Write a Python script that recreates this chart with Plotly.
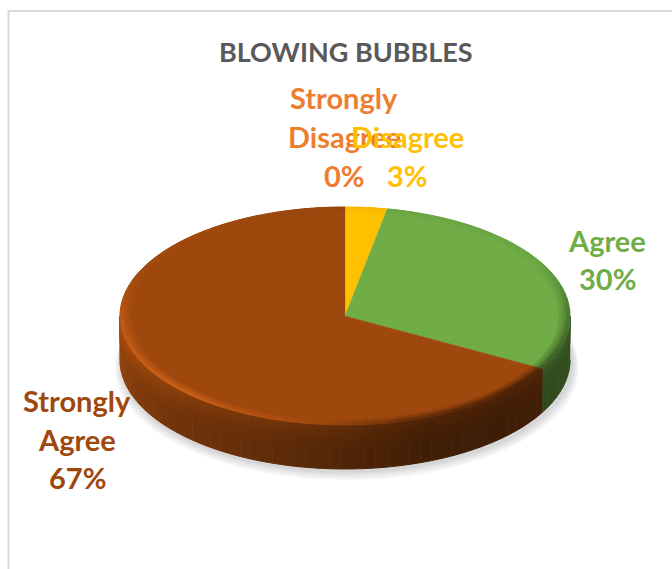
import numpy as np
import plotly.graph_objects as go

categories = ["Strongly Disagree", "Disagree", "Agree", "Strongly Agree"]
values = [0, 3, 30, 67]
colors = ["#ED7D31", "#FFC000", "#70AD47", "#9E480E"]
title = "BLOWING BUBBLES"

W, H = 672, 569
CX, CY, RX, RY, DEPTH = 345, 316, 225, 109, 44
FONT = "Lato"
XR = [-CX / RX, (W - CX) / RX]
YR = [(CY - H) / RY, CY / RY]
D = DEPTH / RY


def rgb(c):
    c = c.lstrip("#")
    return np.array([int(c[i:i + 2], 16) for i in (0, 2, 4)], float)


def hexs(a):
    a = np.clip(a, 0, 255).round().astype(int)
    return f"rgb({a[0]},{a[1]},{a[2]})"


def pt(phi, r=1.0, dy=0.0):
    p = np.radians(phi)
    return r * np.sin(p), r * np.cos(p) - dy


fig = go.Figure()


def poly(x, y, color, lw=1.0):
    fig.add_trace(go.Scatter(x=list(x), y=list(y), mode="lines", fill="toself", fillcolor=color,
                             line=dict(color=color, width=lw), hoverinfo="skip", showlegend=False))


# soft shadow under the disc
ang = np.linspace(0, 360, 181)
for grow, dy in [(1.030, 0.07), (1.022, 0.055), (1.014, 0.04), (1.006, 0.03)]:
    sx, sy = pt(ang, grow, D + dy)
    sx = sx + 0.008
    poly(sx, sy, "rgba(90,90,90,0.065)", 0)

# slice angle ranges follow the values
total = sum(values)
edges = np.cumsum([0] + values) / total * 360
starts, ends = edges[:-1], edges[1:]

# side wall brightness around the visible half
side_phi = [90, 118, 135, 160, 180, 200, 225, 250, 270]
side_f = [0.46, 0.43, 0.40, 0.42, 0.52, 0.62, 0.72, 0.85, 0.95]
STEP = 3
ROW_T = np.linspace(0, 1, 9)
ROW_K = [1.16, 1.1, 1.05, 1.02, 1.0, 0.98, 0.97, 0.96]

for a, b, col in zip(starts, ends, colors):
    if b <= a:
        continue
    base = rgb(col)
    lo, hi = max(a, 90), min(b, 270)
    if hi > lo:
        n = max(1, int(np.ceil((hi - lo) / STEP)))
        grid = np.linspace(lo, hi, n + 1)
        for p0, p1 in zip(grid[:-1], grid[1:]):
            f = float(np.interp((p0 + p1) / 2, side_phi, side_f))
            c = hexs(base * f * 0.98)
            arc = np.linspace(p0, p1, 3)
            x0, y0 = pt(arc, 1, 0)
            x1, y1 = pt(arc[::-1], 1, D)
            poly(np.r_[x0, x1], np.r_[y0, y1], c)
        for i in range(3, -1, -1):
            t1 = ROW_T[i + 1]
            for p0, p1 in zip(grid[:-1], grid[1:]):
                f = float(np.interp((p0 + p1) / 2, side_phi, side_f))
                arc = np.linspace(p0, p1, 3)
                x0, y0 = pt(arc, 1, 0)
                x1, y1 = pt(arc[::-1], 1, D * t1)
                poly(np.r_[x0, x1], np.r_[y0, y1], hexs(base * f * ROW_K[i]))

# top face
for a, b, col in zip(starts, ends, colors):
    if b <= a:
        continue
    arc = np.linspace(a, b, max(3, int(b - a) + 2))
    x, y = pt(arc)
    poly(np.r_[0, x, 0], np.r_[0, y, 0], col, 0.3)

# bevel along the rim of the top face
rim_phi = [0, 60, 90, 130, 165, 190, 225, 265, 290, 360]
rim_v = [-0.06, -0.08, -0.55, -0.9, -0.6, 0.1, 1.0, 0.7, 0.12, -0.06]
RINGS = [(0.950, 1.0, 0.25), (0.962, 1.0, 0.45), (0.974, 1.0, 0.7), (0.986, 1.0, 1.0)]
for r0, r1, w in RINGS:
    for a, b, col in zip(starts, ends, colors):
        if b <= a:
            continue
        base = rgb(col)
        n = max(1, int(np.ceil((b - a) / STEP)))
        grid = np.linspace(a, b, n + 1)
        for p0, p1 in zip(grid[:-1], grid[1:]):
            v = float(np.interp((p0 + p1) / 2, rim_phi, rim_v))
            target = base * 1.26 + 6 if v > 0 else base * 0.42
            c = base + (target - base) * abs(v) * w
            arc = np.linspace(p0, p1, 3)
            x0, y0 = pt(arc, r0)
            x1, y1 = pt(arc[::-1], r1)
            poly(np.r_[x0, x1], np.r_[y0, y1], hexs(c), 0.3)

# text placement (pixel centres in the picture)
label_pos = {
    "Strongly Disagree": (344, [97.5, 136.5, 175.5]),
    "Disagree": (408, [136.5, 175.5]),
    "Agree": (607, [240.5, 278.5]),
    "Strongly Agree": (77, [400.5, 439.5, 477.5]),
}
ann = [dict(text=f"<b>{title}</b>", x=346 / W, y=1 - 51 / H, xref="paper", yref="paper", showarrow=False,
            xanchor="center", yanchor="middle", font=dict(family=FONT, size=27, color="#595959"))]
for cat, val, col in zip(categories, values, colors):
    lx, ly = label_pos[cat]
    for line, yy in zip(cat.split(" ") + [f"{val}%"], ly):
        ann.append(dict(text=f"<b>{line}</b>", x=lx / W, y=1 - yy / H, xref="paper", yref="paper", showarrow=False,
                        xanchor="center", yanchor="middle", font=dict(family=FONT, size=29, color=col)))

frame = dict(type="rect", xref="paper", yref="paper", x0=8.5 / W, x1=1.2, y0=-0.2, y1=1 - 11 / H,
             line=dict(color="#D9D9D9", width=2), fillcolor="rgba(0,0,0,0)", layer="below")

fig.update_layout(
    width=W, height=H, margin=dict(l=0, r=0, t=0, b=0), autosize=False,
    paper_bgcolor="white", plot_bgcolor="white", showlegend=False,
    xaxis=dict(range=XR, visible=False, fixedrange=True),
    yaxis=dict(range=YR, visible=False, fixedrange=True),
    annotations=ann, shapes=[frame],
)
fig.write_html("out.html", config={"displayModeBar": False},
               post_script="document.body.style.margin='0';document.documentElement.style.overflow='hidden';")
